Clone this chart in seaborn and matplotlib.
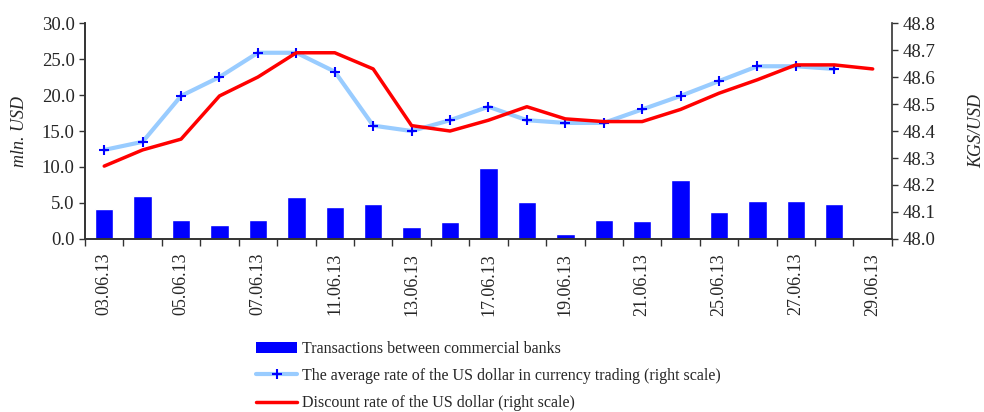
import numpy as np
import pandas as pd
import matplotlib
matplotlib.use("Agg")
import matplotlib.pyplot as plt
import seaborn as sns
from matplotlib.patches import Patch
from matplotlib.lines import Line2D

# --- data ---
dates = ["03.06.13", "04.06.13", "05.06.13", "06.06.13", "07.06.13", "10.06.13",
         "11.06.13", "12.06.13", "13.06.13", "14.06.13", "17.06.13", "18.06.13",
         "19.06.13", "20.06.13", "21.06.13", "24.06.13", "25.06.13", "26.06.13",
         "27.06.13", "28.06.13", "29.06.13"]
volume = [4.1, 6.0, 2.7, 1.9, 2.7, 5.9, 4.5, 4.9, 1.6, 2.3, 9.8, 5.2,
          0.7, 2.7, 2.5, 8.2, 3.7, 5.3, 5.3, 4.8, np.nan]
avg_rate = [48.33, 48.36, 48.53, 48.60, 48.69, 48.69, 48.62, 48.42, 48.40, 48.44,
            48.49, 48.44, 48.43, 48.43, 48.48, 48.53, 48.585, 48.64, 48.64, 48.63,
            np.nan]
disc_rate = [48.27, 48.33, 48.37, 48.53, 48.60, 48.69, 48.69, 48.63, 48.42, 48.40,
             48.44, 48.49, 48.445, 48.435, 48.435, 48.48, 48.54, 48.59, 48.645,
             48.645, 48.63]

bar_label = "Transactions between commercial banks"
avg_label = "The average rate of the US dollar in currency trading (right scale)"
disc_label = "Discount rate of the US dollar (right scale)"

df = pd.DataFrame({"date": dates, "pos": np.arange(len(dates)),
                   "volume": volume, "avg": avg_rate, "disc": disc_rate})

sns.set_style("ticks")
plt.rcParams["font.family"] = ["Liberation Serif", "DejaVu Serif"]

fig = plt.figure(figsize=(9.84, 4.12), dpi=100)
ax = fig.add_axes([0.0864, 0.42, 0.82, 0.524])

sns.barplot(data=df, x="date", y="volume", order=dates, color="#0000FF",
            saturation=1, width=0.48, ax=ax)

ax2 = ax.twinx()
sns.lineplot(data=df.dropna(subset=["avg"]), x="pos", y="avg", ax=ax2,
             color="#99CCFF", lw=3, marker="+", markersize=7,
             markeredgecolor="#0000FF", markeredgewidth=1.5)
sns.lineplot(data=df, x="pos", y="disc", ax=ax2, color="#FF0000", lw=2.5)

ax.set_xlim(-0.5, len(dates) - 0.5)
ax.set_ylim(0, 30)
ax.set_yticks(np.arange(0, 30.1, 5))
ax.set_yticklabels([f"{v:.1f}" for v in np.arange(0, 30.1, 5)])
ax2.set_ylim(48.0, 48.8)
ax2.set_yticks(np.arange(48.0, 48.81, 0.1))
ax2.set_yticklabels([f"{v:.1f}" for v in np.arange(48.0, 48.81, 0.1)])

# tick marks between categories, labels on every other date
ax.set_xticks(np.arange(-0.5, len(dates), 1.0))
ax.set_xticklabels([])
ax.set_xticks(np.arange(0, len(dates), 2), minor=True)
ax.set_xticklabels(dates[::2], minor=True, rotation=90, fontsize=13)
ax.tick_params(axis="x", which="minor", length=0, pad=10)
ax.tick_params(axis="x", which="major", length=5, width=1, color="#333333")
ax.tick_params(axis="y", labelsize=13.5, length=4, width=1, color="#333333")
ax2.tick_params(axis="y", labelsize=13.5, length=4, width=1, color="#333333")

ax.set_xlabel("")
ax.set_ylabel("mln. USD", fontsize=13, style="italic", labelpad=10)
ax2.set_xlabel("")
ax2.set_ylabel("KGS/USD", fontsize=13, style="italic", labelpad=24)
ax2.yaxis.set_label_position("right")

for a in (ax, ax2):
    a.spines["top"].set_visible(False)
    for s in ("left", "right", "bottom"):
        a.spines[s].set_color("#333333")
        a.spines[s].set_linewidth(1.2)
ax.spines["right"].set_visible(False)

handles = [Patch(facecolor="#0000FF", edgecolor="none"),
           Line2D([], [], color="#99CCFF", lw=3, marker="+", markersize=7,
                  markeredgecolor="#0000FF", markeredgewidth=1.5),
           Line2D([], [], color="#FF0000", lw=2.5)]
fig.legend(handles, [bar_label, avg_label, disc_label], loc="upper left",
           bbox_to_anchor=(0.252, 0.192), frameon=False, fontsize=11.5,
           handlelength=2.6, handleheight=0.7, handletextpad=0.3,
           labelspacing=0.7, borderpad=0)

fig.savefig("out.png", dpi=100)
